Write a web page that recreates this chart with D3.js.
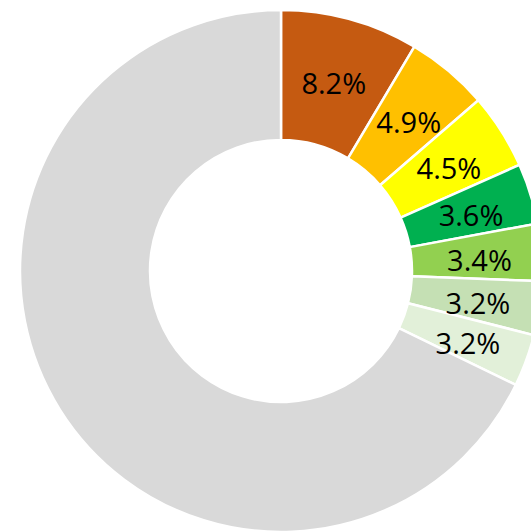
<!DOCTYPE html>
<html>
<head>
<meta charset="utf-8">
<script src="https://cdn.jsdelivr.net/npm/d3@7"></script>
<style>
html, body { margin: 0; padding: 0; background: #fff; overflow: hidden; }
svg { display: block; }
</style>
</head>
<body>
<svg id="chart" width="531" height="532"></svg>
<script>
const categories = ["A", "B", "C", "D", "E", "F", "G", "Other"];
const values = [8.2, 4.9, 4.5, 3.6, 3.4, 3.2, 3.1, 65.1];
const labels = ["8.2%", "4.9%", "4.5%", "3.6%", "3.4%", "3.2%", "3.2%", ""];
const colors = ["#C55A11", "#FFC000", "#FFFF00", "#00B050", "#92D050", "#C5E0B4", "#E2F0D9", "#D9D9D9"];

const cx = 281, cy = 271, outerR = 261, innerR = 131;

const svg = d3.select("#chart");
const g = svg.append("g").attr("transform", `translate(${cx},${cy})`);

const data = categories.map((c, i) => ({ cat: c, value: values[i], label: labels[i], color: colors[i] }));

const pie = d3.pie().value(d => d.value).sort(null);
const arc = d3.arc().innerRadius(innerR).outerRadius(outerR);
const labelArc = d3.arc().innerRadius(innerR + 3).outerRadius(outerR + 3);

const arcs = pie(data);

g.selectAll("path.slice")
  .data(arcs)
  .join("path")
  .attr("class", "slice")
  .attr("d", arc)
  .attr("fill", d => d.data.color)
  .attr("stroke", "#fff")
  .attr("stroke-width", 2.5)
  .attr("stroke-linejoin", "round");

g.selectAll("text.lbl")
  .data(arcs.filter(d => d.data.label))
  .join("text")
  .attr("class", "lbl")
  .attr("transform", d => { const c = labelArc.centroid(d); return `translate(${c[0]},${c[1] + 3})`; })
  .attr("text-anchor", "middle")
  .attr("dominant-baseline", "central")
  .attr("font-family", "'Open Sans', 'Noto Sans', sans-serif")
  .attr("font-size", 29)
  .attr("fill", "#000")
  .text(d => d.data.label);
</script>
</body>
</html>
